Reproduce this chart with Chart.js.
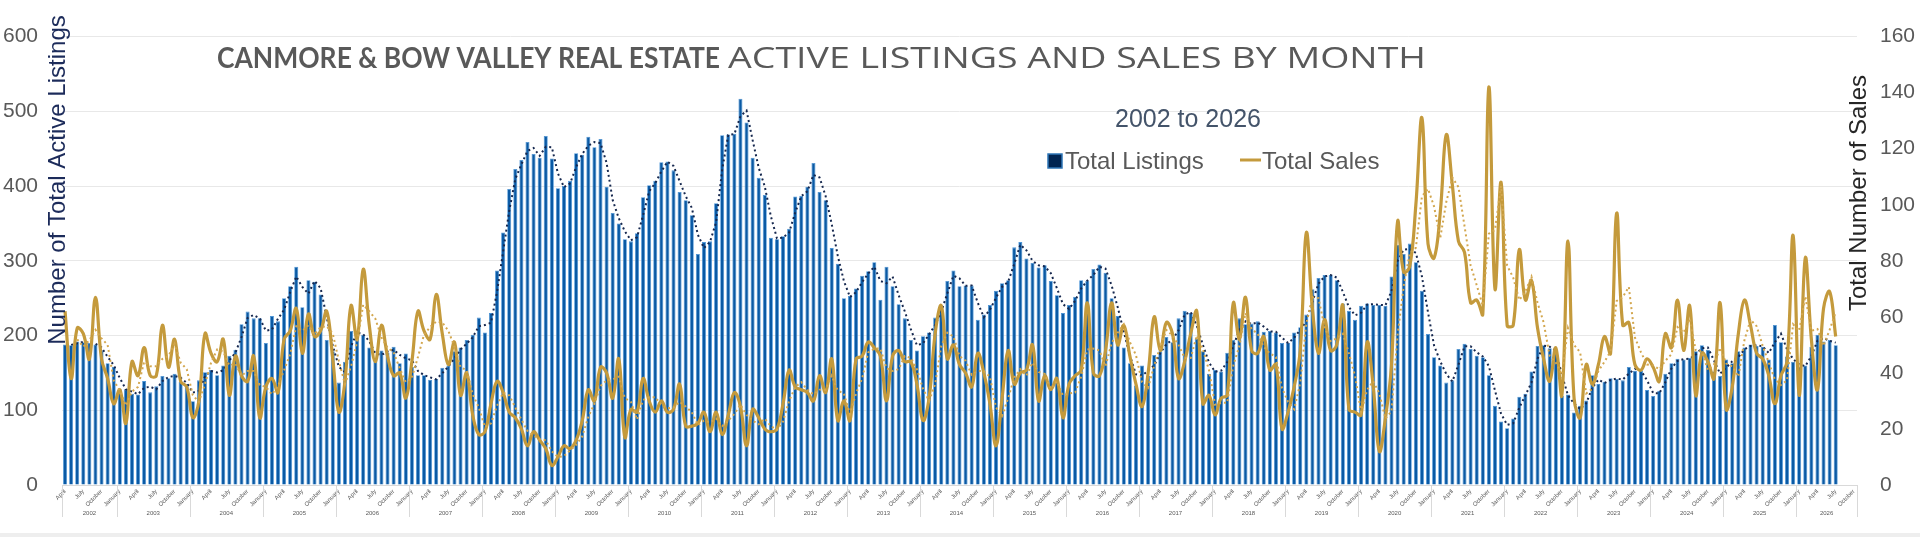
<!DOCTYPE html>
<html><head><meta charset="utf-8">
<script src="https://cdn.jsdelivr.net/npm/chart.js@4.4.1/dist/chart.umd.min.js"></script>
<style>html,body{margin:0;padding:0;background:#fff;overflow:hidden}canvas{display:block}</style>
</head><body>
<canvas id="c" width="1920" height="537"></canvas>
<script>
const years = [2002,2003,2004,2005,2006,2007,2008,2009,2010,2011,2012,2013,2014,2015,2016,2017,2018,2019,2020,2021,2022,2023,2024,2025,2026];
const monthNames = ["January","February","March","April","May","June","July","August","September","October","November","December"];
const firstMonthIndex = 3;   // April 2002
const lastMonthIndex = 9;    // October 2026
const leftTicks = [0,100,200,300,400,500,600];
const rightTicks = [0,20,40,60,80,100,120,140,160];

const totalListings = [
188,187,192,191,190,188,180,163,158,
128,128,122,121,139,124,132,146,143,149,138,135,
112,140,151,154,147,160,173,181,215,232,223,223,
190,226,219,250,266,292,238,274,272,255,194,179,
137,165,206,202,201,184,168,180,177,185,163,176,
158,147,147,141,142,157,160,179,184,194,201,224,
204,230,287,338,396,423,435,459,443,438,467,437,
397,400,407,444,442,466,452,463,399,364,350,329,
326,337,385,401,407,432,433,421,392,381,361,309,
325,326,377,468,469,470,517,485,438,411,388,331,
329,333,343,386,387,399,431,392,381,317,296,250,
253,263,280,286,298,248,292,266,242,223,194,180,
199,204,224,240,273,287,266,267,267,221,228,241,
260,270,274,318,325,303,297,291,294,273,254,230,
241,252,274,273,289,295,284,250,226,184,163,133,
160,146,174,179,198,191,223,233,230,196,179,149,
154,152,177,194,223,215,216,219,205,206,204,190,
190,204,211,228,262,277,281,281,274,243,233,221,
240,243,241,241,240,279,321,309,323,298,260,202,
171,160,137,140,182,189,182,173,171,147,106,85,
76,89,118,122,152,186,187,183,176,119,121,97,
106,113,147,135,138,143,142,140,158,153,153,127,
119,126,149,163,169,168,170,179,187,181,152,146,
168,163,179,184,188,186,185,168,214,191,172,165,
158,160,185,201,192,194,187
];

const totalSales = [
62,38,56,54,45,67,45,38,29,
34,22,44,39,49,39,39,57,42,52,37,35,
24,30,54,47,44,52,32,46,39,37,46,24,
35,38,33,52,55,63,47,61,53,55,62,45,
26,37,64,52,77,57,44,57,46,39,40,31,
44,62,55,52,68,54,43,51,32,40,25,18,
19,29,37,33,26,24,20,14,19,16,13,7,
10,14,13,16,23,34,30,42,40,31,45,17,
27,26,38,30,26,30,26,27,36,21,21,22,
26,19,26,18,25,33,28,14,27,24,20,19,
20,29,41,35,34,33,30,39,33,45,23,30,
23,45,46,51,49,46,30,46,48,44,44,36,
23,31,54,64,45,50,43,40,35,47,40,29,
14,31,48,36,40,41,50,30,39,34,38,24,
36,39,41,65,40,39,48,65,50,57,46,36,
28,40,60,48,58,54,38,44,54,62,29,32,
25,31,32,65,52,67,48,47,53,41,43,20,
26,35,48,90,63,47,59,48,50,64,27,26,
25,51,35,12,24,43,94,76,78,100,131,86,
81,97,125,107,87,83,65,66,61,142,70,108,
57,57,84,66,73,56,45,37,49,32,87,31,
24,43,36,43,53,47,97,57,58,43,41,45,
42,37,54,49,66,48,64,32,47,44,38,65,
27,35,54,66,57,47,45,39,29,39,44,89,
32,81,52,34,63,69,53
];

// category labels (month, year)
const categories = [];
const catYears = [];
years.forEach((y, yi) => {
  const m0 = yi === 0 ? firstMonthIndex : 0;
  const m1 = yi === years.length - 1 ? lastMonthIndex : 11;
  for (let m = m0; m <= m1; m++) { categories.push(monthNames[m]); catYears.push(y); }
});

// Moving-average trendlines (Excel style): 2-period on listings, 3-period on sales
function movingAverage(arr, p) {
  return arr.map((v, i) => {
    if (i < p - 1) return null;
    let s = 0; for (let k = i - p + 1; k <= i; k++) s += arr[k];
    return s / p;
  });
}
const listingsTrend = movingAverage(totalListings, 2);
const salesTrend = movingAverage(totalSales, 3);

const FONT = '"Liberation Sans", Arial, sans-serif';

const decor = {
  id: 'decor',
  afterDraw(chart) {
    const ctx = chart.ctx, xs = chart.scales.x, ca = chart.chartArea;
    ctx.save();
    // year group separators and labels
    const pitch = xs.getPixelForValue(1) - xs.getPixelForValue(0);
    ctx.strokeStyle = '#d9d9d9'; ctx.lineWidth = 1;
    ctx.fillStyle = '#595959'; ctx.font = '6px ' + FONT;
    ctx.textAlign = 'center'; ctx.textBaseline = 'middle';
    let start = 0; let lastRight = 0;
    years.forEach(y => {
      let end = start;
      while (end + 1 < categories.length && catYears[end + 1] === y) end++;
      const left = xs.getPixelForValue(start) - pitch / 2;
      const right = xs.getPixelForValue(end) + pitch / 2;
      ctx.beginPath(); ctx.moveTo(Math.round(left) + 0.5, ca.bottom); ctx.lineTo(Math.round(left) + 0.5, ca.bottom + 32); ctx.stroke();
      ctx.fillText(String(y), (left + right) / 2, ca.bottom + 28);
      lastRight = right; start = end + 1;
    });
    ctx.beginPath(); ctx.moveTo(Math.round(lastRight) + 0.5, ca.bottom); ctx.lineTo(Math.round(lastRight) + 0.5, ca.bottom + 32); ctx.stroke();

    // Title
    ctx.textAlign = 'left'; ctx.textBaseline = 'alphabetic'; ctx.fillStyle = '#595959';
    const tb = 'CANMORE & BOW VALLEY REAL ESTATE';
    const tr = 'ACTIVE LISTINGS AND SALES BY MONTH';
    ctx.font = 'bold 29px Lato, "Open Sans", sans-serif';
    let w = ctx.measureText(tb).width;
    ctx.save(); ctx.translate(217, 68); ctx.scale(503 / w, 1); ctx.fillText(tb, 0, 0); ctx.restore();
    ctx.font = '29px "Open Sans", Lato, sans-serif';
    w = ctx.measureText(tr).width;
    ctx.save(); ctx.translate(728, 68); ctx.scale(698 / w, 1); ctx.fillText(tr, 0, 0); ctx.restore();

    // Subtitle
    ctx.font = '25px ' + FONT; ctx.fillStyle = '#44546A'; ctx.textAlign = 'center';
    ctx.fillText('2002 to 2026', 1188, 127);

    // Legend
    ctx.fillStyle = '#002451'; ctx.fillRect(1048, 154, 14, 14);
    ctx.strokeStyle = '#2E75B6'; ctx.lineWidth = 1.5; ctx.strokeRect(1048, 154, 14, 14);
    ctx.font = '24px ' + FONT; ctx.fillStyle = '#595959'; ctx.textAlign = 'left';
    ctx.fillText('Total Listings', 1065, 169);
    ctx.strokeStyle = '#C49A3C'; ctx.lineWidth = 3;
    ctx.beginPath(); ctx.moveTo(1240, 160); ctx.lineTo(1261, 160); ctx.stroke();
    ctx.fillText('Total Sales', 1262, 169);

    // Axis titles
    ctx.font = '24px ' + FONT; ctx.textAlign = 'center'; ctx.textBaseline = 'middle';
    ctx.save(); ctx.translate(58, 180); ctx.rotate(-Math.PI / 2);
    ctx.fillStyle = '#1C2B5A'; ctx.fillText('Number of Total Active Listings', 0, 0); ctx.restore();
    ctx.save(); ctx.translate(1859, 193); ctx.rotate(-Math.PI / 2);
    ctx.fillStyle = '#262626'; ctx.fillText('Total Number of Sales', 0, 0); ctx.restore();

    // outer frame hints
    ctx.fillStyle = '#eeeeee'; ctx.fillRect(0, 533, 1920, 4);
    ctx.restore();
  }
};

function build() {
  new Chart(document.getElementById('c'), {
    data: {
      labels: categories,
      datasets: [
        { type: 'bar', label: 'Total Listings', data: totalListings, yAxisID: 'y',
          backgroundColor: '#0A5AA5', borderColor: '#4B94D6', borderWidth: 0.8,
          barPercentage: 0.66, categoryPercentage: 1, order: 10 },
        { type: 'line', label: 'Listings trend', data: listingsTrend, yAxisID: 'y',
          borderColor: '#16284F', borderWidth: 2, borderDash: [2, 3], pointRadius: 0, tension: 0, order: 3 },
        { type: 'line', label: 'Total Sales', data: totalSales, yAxisID: 'y1',
          borderColor: '#C49A3C', borderWidth: 3.2, pointRadius: 0, tension: 0.4, order: 2 },
        { type: 'line', label: 'Sales trend', data: salesTrend, yAxisID: 'y1',
          borderColor: '#D3A74F', borderWidth: 2, borderDash: [2, 3], pointRadius: 0, tension: 0, order: 1 }
      ]
    },
    options: {
      responsive: false, animation: false, devicePixelRatio: 1,
      layout: { padding: { top: 15, left: 0, right: 0, bottom: 0 } },
      plugins: { legend: { display: false }, tooltip: { enabled: false }, title: { display: false } },
      scales: {
        x: {
          type: 'category', offset: true,
          grid: { display: false, drawTicks: false },
          border: { display: true, color: '#d9d9d9' },
          ticks: { autoSkip: false, minRotation: 45, maxRotation: 45, padding: 3,
            color: '#595959', font: { size: 6, family: FONT },
            callback: (v, i) => (i % 3 === 0 ? categories[i] : '') },
          afterFit(s) { s.height = 52; }
        },
        y: {
          position: 'left', min: 0, max: 600,
          afterBuildTicks(s) { s.ticks = leftTicks.map(v => ({ value: v })); },
          ticks: { padding: 24, color: '#595959', font: { size: 21, family: FONT } },
          grid: { color: '#e8e8e8', drawTicks: false },
          border: { display: false },
          afterFit(s) { s.width = 62; }
        },
        y1: {
          position: 'right', min: 0, max: 160,
          afterBuildTicks(s) { s.ticks = rightTicks.map(v => ({ value: v })); },
          ticks: { padding: 23, color: '#595959', font: { size: 21, family: FONT } },
          grid: { display: false, drawTicks: false },
          border: { display: false },
          afterFit(s) { s.width = 63; }
        }
      }
    },
    plugins: [decor]
  });
}
const fontLoads = document.fonts ? Promise.all([
  document.fonts.load('bold 29px Lato'), document.fonts.load('29px "Open Sans"'),
  document.fonts.load('24px "Liberation Sans"')
]).catch(() => {}) : Promise.resolve();
fontLoads.then(build, build);
</script>
</body></html>
